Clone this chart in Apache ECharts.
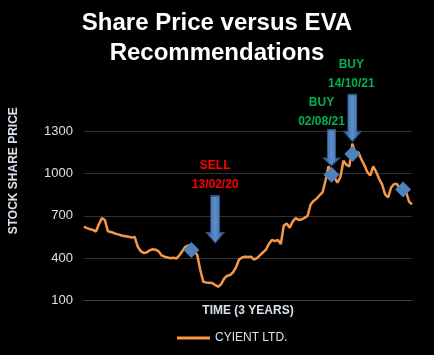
<!DOCTYPE html>
<html>
<head>
<meta charset="utf-8">
<script src="https://cdn.jsdelivr.net/npm/echarts@6/dist/echarts.min.js"></script>
<style>html,body{margin:0;padding:0;background:#000;}#c{width:434px;height:355px;}</style>
</head>
<body>
<div id="c"></div>
<script>
// Share price of CYIENT LTD. (approx. every few trading days over 3 years)
var prices = [623,612,605,600,588,640,683,670,590,585,578,570,565,558,555,552,545,550,482,450,
437,440,455,463,460,448,420,410,405,399,402,398,420,450,480,490,470,455,420,316,
233,228,226,224,210,198,215,255,275,280,300,335,390,405,410,408,410,390,400,420,
440,460,500,529,520,529,500,630,645,615,660,683,670,675,685,700,780,805,820,845,
865,950,1050,1000,970,935,975,1090,1060,1050,1210,1140,1150,1100,1060,1010,985,1050,1010,960,
920,850,830,900,925,925,880,870,870,800,780];
var categories = prices.map(function(_, i){ return 'D' + (i + 1); });
// EVA recommendation markers: [index, price]
var markers = [[36, 458], [83, 990], [90, 1137], [107, 885]];
// Annotation arrows: [index, price at arrow centre]
var arrowTexts = ['SELL\n13/02/20', 'BUY\n02/08/21', 'BUY\n14/10/21'];
var arrowPos = [[44, 674], [83, 1181], [90, 1392]];
var yTicks = [100, 400, 700, 1000, 1300];

var arrowPath = 'path://M4,0 L13,0 L13,37 L17,37 L8.5,47 L0,37 L4,37 Z';
var arrowFill = new echarts.graphic.LinearGradient(0, 0, 1, 0, [
  {offset: 0, color: '#3b6396'}, {offset: 0.5, color: '#5b8dcc'}, {offset: 1, color: '#3b6396'}]);
var arrowStyles = [
  {size: [17, 47], color: '#ff0000', offset: [0, 0], dist: 1},
  {size: [16, 36], color: '#00b050', offset: [-10, 0], dist: -2},
  {size: [17, 47], color: '#00b050', offset: [-1, 0], dist: 0}
];
var arrowData = arrowPos.map(function(p, i){
  var s = arrowStyles[i];
  return {
    value: p, symbolSize: s.size,
    label: {show: true, position: 'top', distance: s.dist, offset: s.offset,
      formatter: arrowTexts[i], color: s.color, fontFamily: 'Liberation Sans',
      fontWeight: 'bold', fontSize: 12, lineHeight: 19, align: 'center'}
  };
});

var chart = echarts.init(document.getElementById('c'));
chart.setOption({
  backgroundColor: '#000000',
  animation: false,
  title: {
    text: 'Share Price versus EVA\nRecommendations',
    left: 'center', top: 3,
    textStyle: {color: '#ffffff', fontFamily: 'Liberation Sans', fontWeight: 'bold',
      fontSize: 24, lineHeight: 30}
  },
  legend: {
    data: ['CYIENT LTD.'], left: 172, top: 327,
    icon: 'rect', itemWidth: 33, itemHeight: 3, itemGap: 5,
    textStyle: {color: '#d8e0ea', fontFamily: 'Liberation Sans', fontSize: 12}
  },
  grid: {left: 83, right: 22, top: 131, bottom: 54.5},
  xAxis: {
    type: 'category', data: categories, boundaryGap: false,
    name: 'TIME (3 YEARS)', nameLocation: 'middle', nameGap: 4,
    nameTextStyle: {color: '#d8e0ea', fontFamily: 'Liberation Sans', fontWeight: 'bold', fontSize: 12},
    axisLine: {show: true, lineStyle: {color: '#404040', width: 1}},
    axisTick: {show: false}, axisLabel: {show: false}, splitLine: {show: false}
  },
  yAxis: {
    type: 'value', min: yTicks[0], max: yTicks[yTicks.length - 1], interval: 300,
    name: 'STOCK SHARE PRICE', nameLocation: 'middle', nameGap: 64, nameRotate: 90,
    nameTextStyle: {color: '#d8e0ea', fontFamily: 'Liberation Sans', fontWeight: 'bold', fontSize: 12,
      padding: [0, 0, 0, 90]},
    axisLine: {show: false}, axisTick: {show: false},
    axisLabel: {color: '#d8e0ea', fontFamily: 'Liberation Sans', fontSize: 13, margin: 11,
      formatter: function(v){ return String(v); }},
    splitLine: {lineStyle: {color: '#303030', width: 1}}
  },
  series: [
    {
      name: 'CYIENT LTD.', type: 'line', data: prices, showSymbol: false,
      lineStyle: {color: '#f79646', width: 2.5}, itemStyle: {color: '#f79646'}, z: 2
    },
    {
      name: 'EVA', type: 'scatter', data: markers, symbol: 'diamond', symbolSize: 16,
      itemStyle: {color: '#4f81bd', opacity: 1}, z: 5
    },
    {
      name: 'Arrows', type: 'scatter', data: arrowData, symbol: arrowPath, clip: false,
      itemStyle: {color: arrowFill, borderColor: '#2f5281', borderWidth: 1, opacity: 1}, z: 4
    }
  ]
});
</script>
</body>
</html>
